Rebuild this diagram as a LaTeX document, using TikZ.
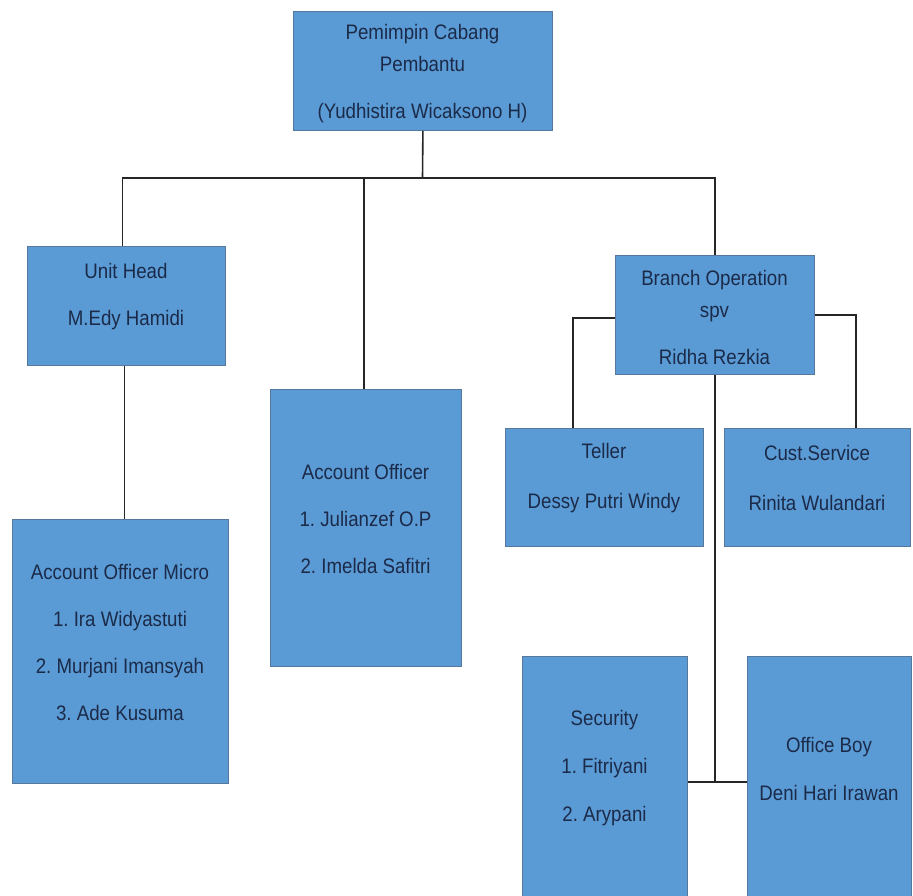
\documentclass[tikz,border=0pt]{standalone}
\usepackage{fontspec}
\setmainfont[FakeStretch=0.89]{Liberation Sans}
\definecolor{boxfill}{HTML}{5B9BD5}
\definecolor{boxline}{HTML}{56789A}
\definecolor{txtcol}{HTML}{1B2A48}
\frenchspacing
\begin{document}
\begin{tikzpicture}[x=1pt,y=-1pt,
  box/.style={draw=boxline,line width=0.8pt,fill=boxfill,inner sep=0pt,anchor=north west},
  txt/.style={text=txtcol,align=center,inner sep=0pt,font=\fontsize{21}{32}\selectfont},
  conn/.style={draw=black!85,line width=1.6pt}]
\useasboundingbox (0,0) rectangle (913,895);
\fill[white] (0,0) rectangle (913,895);
% boxes
\node[box,minimum width=259pt,minimum height=119pt] (top) at (293,11) {};
\node[box,minimum width=198pt,minimum height=119pt] (uh) at (27,246) {};
\node[box,minimum width=191pt,minimum height=277pt] (ao) at (270,389) {};
\node[box,minimum width=216pt,minimum height=264pt] (aom) at (12,519) {};
\node[box,minimum width=199pt,minimum height=119pt] (br) at (615,255) {};
\node[box,minimum width=198pt,minimum height=118pt] (teller) at (505,428) {};
\node[box,minimum width=186pt,minimum height=118pt] (cs) at (724,428) {};
\node[box,minimum width=165pt,minimum height=249pt] (sec) at (522,656) {};
\node[box,minimum width=164pt,minimum height=249pt] (ob) at (747,656) {};
% texts
\node[txt] (topt) at (422.5,74) {Pemimpin Cabang\\Pembantu\\[15pt](Yudhistira Wicaksono H)};
\node[txt] (uht) at (126,296.5) {Unit Head\\[15pt]M.Edy Hamidi};
\node[txt] (aot) at (365.5,518.5) {Account Officer\\[15pt]1. Julianzef O.P\\[15pt]2. Imelda Safitri};
\node[txt] (aomt) at (120,642) {Account Officer Micro\\[15pt]1. Ira Widyastuti\\[15pt]2. Murjani Imansyah\\[15pt]3. Ade Kusuma};
\node[txt] (brt) at (714.5,317.5) {Branch Operation\\spv\\[15pt]Ridha Rezkia};
\node[txt] (tellert) at (604,478) {Teller\\[18pt]Dessy Putri Windy};
\node[txt] (cst) at (817,478) {Cust.Service\\[18pt]Rinita Wulandari};
\node[txt] (sect) at (604.5,768.5) {Security\\[16pt]1. Fitriyani\\[16pt]2. Arypani};
\node[txt] (obt) at (829,769) {Office Boy\\[16pt]Deni Hari Irawan};
% connectors
\coordinate (bus) at (422.5,178);
\coordinate (junc) at (717,782);
\draw[conn] (top.south) -- (bus);
\draw[conn] ([xshift=-4pt]uh.north) |- (bus) -| (br.north);
\draw[conn] ([xshift=-2pt]ao.north) -- ([xshift=-2pt]ao.north |- bus);
\draw[conn] ([xshift=-2pt]uh.south) -- ([xshift=-2pt]uh.south |- aom.north);
\draw[conn] ([yshift=-3pt]br.west) -| ([xshift=68pt]teller.north west);
\draw[conn] (br.east) -| ([xshift=132pt]cs.north west);
\draw[conn] (br.south) -- (br.south |- junc);
\draw[conn] (sec.east |- junc) -- (ob.west |- junc);
\end{tikzpicture}
\end{document}
